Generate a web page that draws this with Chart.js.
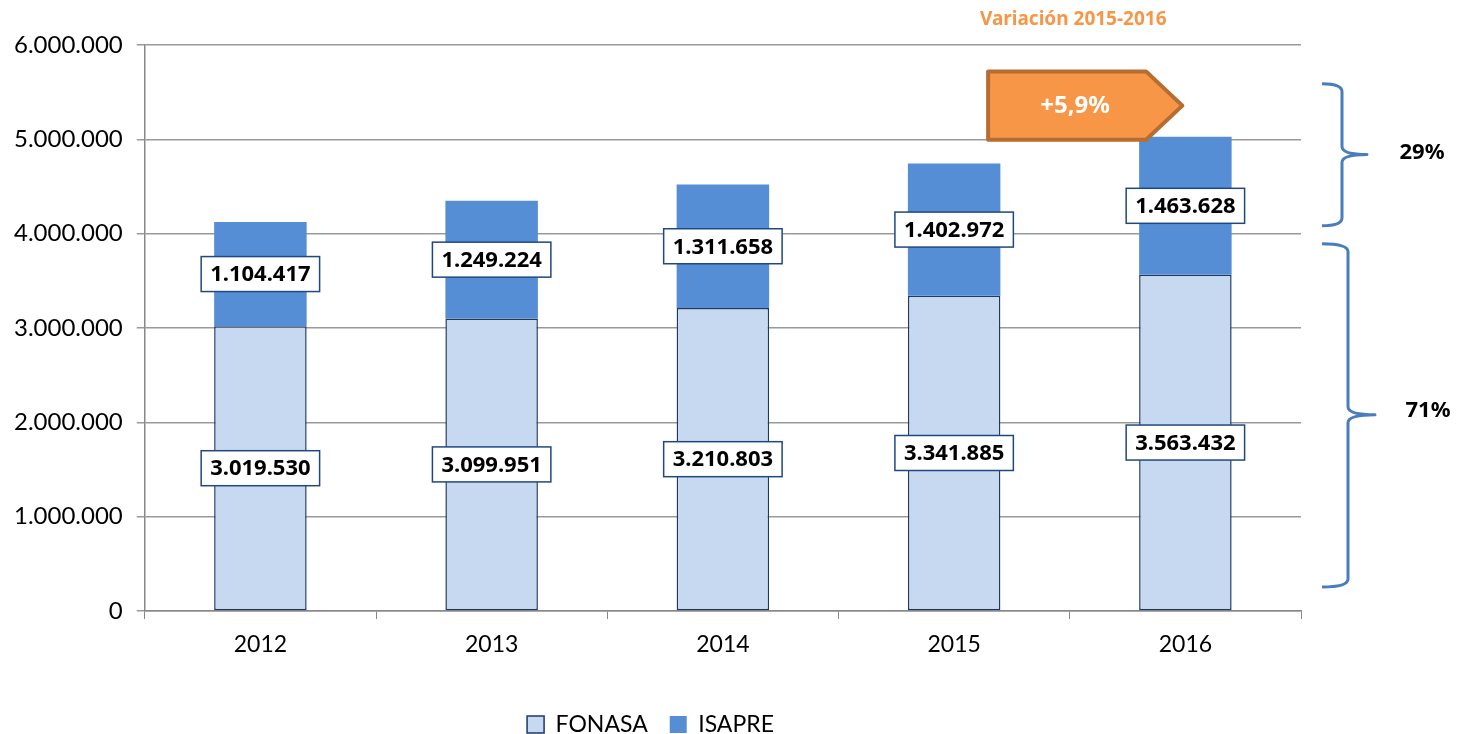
<!DOCTYPE html>
<html>
<head>
<meta charset="utf-8">
<script src="https://cdn.jsdelivr.net/npm/chart.js@4/dist/chart.umd.min.js"></script>
<style>
  html, body { margin:0; padding:0; background:#fff; }
  #wrap { width:1457px; height:734px; position:relative; }
</style>
</head>
<body>
<div id="wrap"><canvas id="chart"></canvas></div>
<script>
const years = ['2012', '2013', '2014', '2015', '2016'];
const fonasa = [3019530, 3099951, 3210803, 3341885, 3563432];
const isapre = [1104417, 1249224, 1311658, 1402972, 1463628];
const variationTitle = 'Variación 2015-2016';
const variationText = '+5,9%';
const shareIsapre = '29%';
const shareFonasa = '71%';

const FONT = 'Lato, "Open Sans", sans-serif';
const BOLD = '"Noto Sans", "Open Sans", sans-serif';

function fmt(n){ return String(n).replace(/\B(?=(\d{3})+(?!\d))/g, '.'); }

function brace(ctx, xEnd, xSpine, xTip, top, bottom, mid){
  const r = 8;
  ctx.beginPath();
  ctx.moveTo(xEnd, top);
  ctx.quadraticCurveTo(xSpine, top, xSpine, top + r);
  ctx.lineTo(xSpine, mid - r);
  ctx.quadraticCurveTo(xSpine, mid, xTip, mid);
  ctx.quadraticCurveTo(xSpine, mid, xSpine, mid + r);
  ctx.lineTo(xSpine, bottom - r);
  ctx.quadraticCurveTo(xSpine, bottom, xEnd, bottom);
  ctx.stroke();
}

// legend sits a little closer to the bottom edge
const legendLow = {
  id: 'legendLow',
  beforeInit(chart){
    const lg = chart.legend;
    if (!lg) return;
    const fit = lg.fit;
    lg.fit = function(){ fit.call(this); this.height -= 12; };
  }
};

const extras = {
  id: 'extras',
  afterDatasetsDraw(chart){
    const ctx = chart.ctx;
    ctx.save();
    // value boxes
    ctx.font = 'bold 22px ' + BOLD;
    ctx.textAlign = 'center';
    ctx.textBaseline = 'middle';
    chart.data.datasets.forEach((ds, i) => {
      chart.getDatasetMeta(i).data.forEach((el, j) => {
        const txt = fmt(ds.data[j]);
        const w = ctx.measureText(txt).width + 18;
        const h = 35;
        const cx = el.x, cy = (el.y + el.base) / 2;
        ctx.fillStyle = '#fff';
        ctx.fillRect(cx - w/2, cy - h/2, w, h);
        ctx.strokeStyle = '#1F497D';
        ctx.lineWidth = 1.5;
        ctx.strokeRect(cx - w/2, cy - h/2, w, h);
        ctx.fillStyle = '#000';
        ctx.fillText(txt, cx, cy + 1);
      });
    });

    const xs = chart.scales.x, ys = chart.scales.y;
    const cw = xs.getPixelForValue(1) - xs.getPixelForValue(0);
    const c15 = xs.getPixelForValue(3), c16 = xs.getPixelForValue(4);

    // arrow
    const aL = c15 + 0.147 * cw, aB = c16 - 0.17 * cw, aR = c16 - 0.013 * cw;
    const aT = ys.getPixelForValue(5720000), aBot = ys.getPixelForValue(4995000);
    const aM = (aT + aBot) / 2;
    ctx.beginPath();
    ctx.moveTo(aL, aT); ctx.lineTo(aB, aT); ctx.lineTo(aR, aM);
    ctx.lineTo(aB, aBot); ctx.lineTo(aL, aBot); ctx.closePath();
    ctx.fillStyle = '#F79646';
    ctx.fill();
    ctx.lineJoin = 'round';
    ctx.lineWidth = 4;
    ctx.strokeStyle = '#B66D31';
    ctx.stroke();
    ctx.fillStyle = '#fff';
    ctx.font = 'bold 24px ' + BOLD;
    ctx.fillText(variationText, (aL + aB) / 2 + 8, aM + 1);

    ctx.fillStyle = '#F79646';
    ctx.font = 'bold 19px ' + BOLD;
    ctx.fillText(variationTitle, (aL + aR) / 2 - 12, 20);

    // braces
    const R = chart.chartArea.right;
    ctx.strokeStyle = '#4A7EBB';
    ctx.lineWidth = 3;
    ctx.lineJoin = 'round';
    brace(ctx, R + 21, R + 41, R + 66, ys.getPixelForValue(5590000), ys.getPixelForValue(4085000), ys.getPixelForValue(4840000));
    brace(ctx, R + 21, R + 47, R + 74, ys.getPixelForValue(3894000), ys.getPixelForValue(254000), ys.getPixelForValue(2080000));
    ctx.fillStyle = '#000';
    ctx.font = 'bold 22px ' + BOLD;
    ctx.fillText(shareIsapre, R + 121, ys.getPixelForValue(4860000));
    ctx.fillText(shareFonasa, R + 127, ys.getPixelForValue(2120000));
    ctx.restore();
  }
};

new Chart(document.getElementById('chart'), {
  type: 'bar',
  data: {
    labels: years,
    datasets: [
      { label:'FONASA', data: fonasa, backgroundColor:'#C6D9F1', borderColor:'#1F3864', borderWidth:1.5, borderSkipped:false },
      { label:'ISAPRE', data: isapre, backgroundColor:'#558ED5', borderWidth:0 }
    ]
  },
  options: {
    responsive: true,
    maintainAspectRatio: false,
    animation: false,
    datasets: { bar: { barPercentage: 0.4, categoryPercentage: 1 } },
    layout: { padding: { top: 45, left: 0, right: 156, bottom: 0 } },
    plugins: {
      tooltip: { enabled:false },
      legend: {
        position: 'bottom',
        labels: { font:{ family:FONT, size:23 }, color:'#000', boxWidth:17, boxHeight:17, padding:22 }
      }
    },
    scales: {
      x: {
        stacked: true,
        grid: { offset:true, drawOnChartArea:false, drawTicks:true, tickLength:8, color:'#888' },
        border: { color:'#888', width:1.5 },
        ticks: { font:{ family:FONT, size:23 }, color:'#000', padding:12 },
        title: { display:true, text:'', padding:{ top:6, bottom:0 } }
      },
      y: {
        stacked: true,
        min: 0, max: 6000000,
        grid: { color:'#999', lineWidth:1.5, tickLength:8 },
        border: { color:'#888', width:1.5 },
        ticks: { stepSize:1000000, font:{ family:FONT, size:24 }, color:'#000', padding:14,
                 callback: v => fmt(v) }
      }
    }
  },
  plugins: [legendLow, extras]
});
</script>
</body>
</html>
